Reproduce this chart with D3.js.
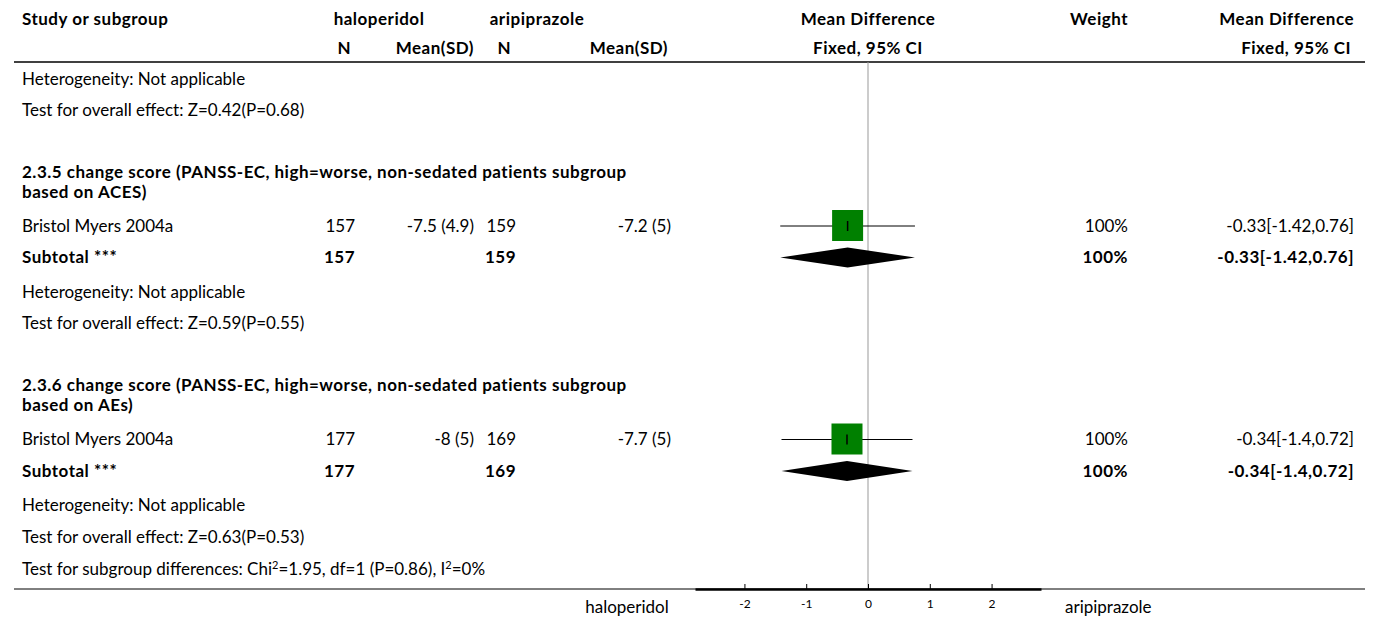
<!DOCTYPE html>
<html>
<head>
<meta charset="utf-8">
<script src="https://cdn.jsdelivr.net/npm/d3@7"></script>
<style>
  body { margin: 0; background: #fff; }
  svg text { font-family: "Lato", sans-serif; font-size: 17px; fill: #000; }
  svg text.b { font-weight: bold; font-size: 17px; letter-spacing: 0.5px; }
</style>
</head>
<body>
<div id="chart"></div>
<script>
(function() {
  'use strict';

  // data
  var groupTitles = [
    ["2.3.5 change score (PANSS-EC, high=worse, non-sedated patients subgroup", "based on ACES)"],
    ["2.3.6 change score (PANSS-EC, high=worse, non-sedated patients subgroup", "based on AEs)"]
  ];
  var studyNames = ["Bristol Myers 2004a", "Bristol Myers 2004a"];
  var haloN = [157, 177];
  var haloMeanSD = ["-7.5 (4.9)", "-8 (5)"];
  var ariN = [159, 169];
  var ariMeanSD = ["-7.2 (5)", "-7.7 (5)"];
  var md = [-0.33, -0.34];
  var ciLow = [-1.42, -1.4];
  var ciHigh = [0.76, 0.72];
  var ciText = ["-0.33[-1.42,0.76]", "-0.34[-1.4,0.72]"];
  var weights = ["100%", "100%"];
  var overallEffect = ["Z=0.59(P=0.55)", "Z=0.63(P=0.53)"];
  var previousEffect = "Z=0.42(P=0.68)";
  var subgroupTest = ["Test for subgroup differences: Chi", "2", "=1.95, df=1 (P=0.86), I", "2", "=0%"];
  var axisTicks = [-2, -1, 0, 1, 2];

  var width = 1375, height = 619;

  var svg = d3.select("#chart")
    .append("svg")
    .attr("width", width)
    .attr("height", height);

  var x = d3.scaleLinear().domain([-2.8, 2.8]).range([695, 1041]);

  var col = {name: 22, haloN: 355, haloM: 474, ariN: 516, ariM: 671, weight: 1128, ci: 1354};
  var bottomY = 589;

  function txt(xp, yp, s, anchor, bold) {
    return svg.append("text")
      .attr("x", xp).attr("y", yp)
      .attr("dy", "0.35em")
      .attr("text-anchor", anchor || "start")
      .attr("class", bold ? "b" : null)
      .text(s);
  }

  // header
  txt(col.name, 19, "Study or subgroup", "start", true);
  txt(379, 19, "haloperidol", "middle", true);
  txt(537, 19, "aripiprazole", "middle", true);
  txt(x(0), 19, "Mean Difference", "middle", true);
  txt(col.weight, 19, "Weight", "end", true);
  txt(col.ci, 19, "Mean Difference", "end", true);
  txt(351, 48, "N", "end", true);
  txt(col.haloM, 48, "Mean(SD)", "end", true);
  txt(511, 48, "N", "end", true);
  txt(col.ariM - 3, 48, "Mean(SD)", "end", true);
  txt(x(0), 48, "Fixed, 95% CI", "middle", true);
  txt(col.ci - 3, 48, "Fixed, 95% CI", "end", true);

  svg.append("line")
    .attr("x1", 14).attr("x2", 1365)
    .attr("y1", 62).attr("y2", 62)
    .attr("stroke", "#000").attr("stroke-width", 1.5);

  // zero line
  svg.append("line")
    .attr("x1", x(0)).attr("x2", x(0))
    .attr("y1", 62).attr("y2", bottomY)
    .attr("stroke", "#999").attr("stroke-width", 1);

  // rows
  var y = 79;
  txt(col.name, y, "Heterogeneity: Not applicable");
  y += 31;
  txt(col.name, y, "Test for overall effect: " + previousEffect);
  y += 62;

  groupTitles.forEach(function(title, i) {
    txt(col.name, y, title[0], "start", true);
    txt(col.name, y + 20, title[1], "start", true);
    y += 54;

    // study row
    txt(col.name, y, studyNames[i]);
    txt(col.haloN, y, haloN[i], "end");
    txt(col.haloM, y, haloMeanSD[i], "end");
    txt(col.ariN, y, ariN[i], "end");
    txt(col.ariM, y, ariMeanSD[i], "end");
    txt(col.weight, y, weights[i], "end");
    txt(col.ci, y, ciText[i], "end");

    svg.append("line")
      .attr("x1", x(ciLow[i])).attr("x2", x(ciHigh[i]))
      .attr("y1", y).attr("y2", y)
      .attr("stroke", "#000").attr("stroke-width", 1);
    svg.append("rect")
      .attr("x", x(md[i]) - 15.5).attr("y", y - 16)
      .attr("width", 31).attr("height", 31)
      .attr("fill", "#008000");
    svg.append("line")
      .attr("x1", x(md[i])).attr("x2", x(md[i]))
      .attr("y1", y - 5).attr("y2", y + 5)
      .attr("stroke", "#000").attr("stroke-width", 1.5);
    y += 31.5;

    // subtotal row
    txt(col.name, y, "Subtotal ***", "start", true);
    txt(col.haloN, y, haloN[i], "end", true);
    txt(col.ariN, y, ariN[i], "end", true);
    txt(col.weight, y, weights[i], "end", true);
    txt(col.ci, y, ciText[i], "end", true);
    svg.append("path")
      .attr("d", "M" + x(ciLow[i]) + "," + y +
                 "L" + x(md[i]) + "," + (y - 10) +
                 "L" + x(ciHigh[i]) + "," + y +
                 "L" + x(md[i]) + "," + (y + 10) + "Z")
      .attr("fill", "#000");
    y += 34.5;

    txt(col.name, y, "Heterogeneity: Not applicable");
    y += 31.5;
    txt(col.name, y, "Test for overall effect: " + overallEffect[i]);
    y += 62;
  });

  y -= 30;
  var st = svg.append("text")
    .attr("x", col.name).attr("y", y)
    .attr("dy", "0.35em");
  subgroupTest.forEach(function(s, k) {
    var t = st.append("tspan").text(s);
    if (k % 2 === 1) t.attr("font-size", "11px").attr("baseline-shift", "super");
  });

  // bottom line and axis
  svg.append("line")
    .attr("x1", 14).attr("x2", 1365)
    .attr("y1", bottomY).attr("y2", bottomY)
    .attr("stroke", "#000").attr("stroke-width", 1);

  var axis = svg.append("g")
    .attr("transform", "translate(0," + bottomY + ")")
    .call(d3.axisBottom(x)
      .tickValues(axisTicks)
      .tickFormat(function(d) { return String(d); })
      .tickSizeInner(-5).tickSizeOuter(0).tickPadding(10));
  axis.select(".domain").attr("stroke-width", 2.5);
  axis.selectAll("text").style("font-size", "12px");

  txt(627, 607, "haloperidol", "middle");
  txt(1065, 607, "aripiprazole", "start");
})();
</script>
</body>
</html>
